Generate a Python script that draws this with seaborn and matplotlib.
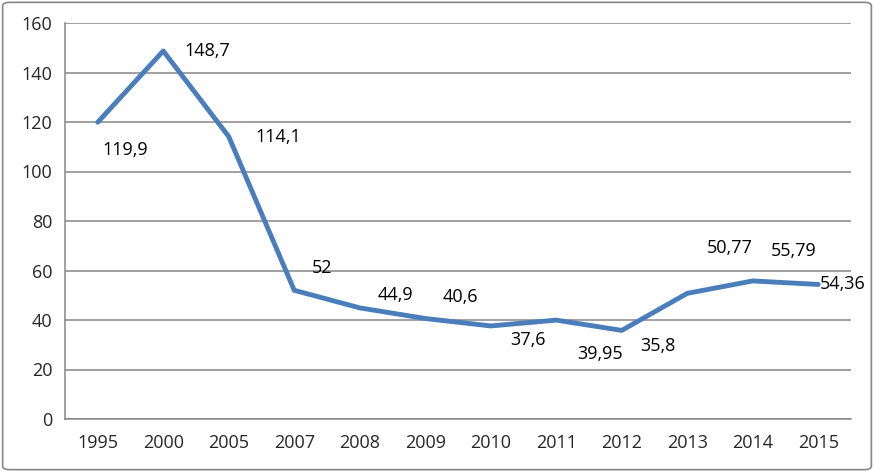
import matplotlib
matplotlib.use("Agg")
import matplotlib.pyplot as plt
import seaborn as sns
import pandas as pd
from matplotlib.patches import FancyBboxPatch
from matplotlib.ticker import FixedLocator, MultipleLocator

# Dados do gráfico
anos = ["1995", "2000", "2005", "2007", "2008", "2009", "2010", "2011", "2012", "2013", "2014", "2015"]
valores = [119.9, 148.7, 114.1, 52, 44.9, 40.6, 37.6, 39.95, 35.8, 50.77, 55.79, 54.36]
rotulos = ["119,9", "148,7", "114,1", "52", "44,9", "40,6", "37,6", "39,95", "35,8", "50,77", "55,79", "54,36"]
# deslocamento dos rótulos em pixels (dx, dy)
desloc = [(27, -28), (44, 0), (50, 0), (28, 22), (36, 13), (35, 22), (37, -14),
          (44, -34), (36, -16), (43, 45), (41, 30), (24, 0)]

df = pd.DataFrame({"ano": anos, "valor": valores})

sns.set_style("white")
plt.rcParams["font.family"] = ["Open Sans", "DejaVu Sans"]

fig = plt.figure(figsize=(8.74, 4.72), dpi=100)
ax = fig.add_axes([65 / 874, 53 / 472, 786 / 874, 396 / 472])

sns.lineplot(data=df, x="ano", y="valor", sort=False, color="#4A7EBB", linewidth=3.5, ax=ax)

for i, (v, r, (dx, dy)) in enumerate(zip(valores, rotulos, desloc)):
    ax.annotate(r, xy=(i, v), xytext=(dx, dy), textcoords="offset pixels",
                ha="center", va="center", fontsize=13, color="black")

ax.set_xlim(-0.5, len(anos) - 0.5)
ax.set_ylim(0, 160)
ax.yaxis.set_major_locator(MultipleLocator(20))
ax.grid(axis="y", color="#868686", linewidth=1.1)
ax.set_axisbelow(True)

# marcas do eixo x entre categorias
ax.xaxis.set_minor_locator(FixedLocator([i - 0.5 for i in range(len(anos) + 1)]))
ax.tick_params(axis="x", which="major", length=0, pad=11, labelsize=13)
ax.tick_params(axis="x", which="minor", length=5, width=1.1, color="#868686", direction="out")
ax.tick_params(axis="y", length=5, width=1.1, color="#868686", direction="out", pad=4, labelsize=13)

for lado in ["top", "right"]:
    ax.spines[lado].set_visible(False)
for lado in ["left", "bottom"]:
    ax.spines[lado].set_color("#868686")
    ax.spines[lado].set_linewidth(1.1)

ax.set_xlabel("")
ax.set_ylabel("")

# moldura externa
moldura = FancyBboxPatch((0.003, 0.005), 0.994, 0.99, boxstyle="round,pad=0,rounding_size=0.008",
                         transform=fig.transFigure, fill=False, edgecolor="#868686", linewidth=1.2)
fig.patches.append(moldura)

fig.savefig("out.png", dpi=100)
